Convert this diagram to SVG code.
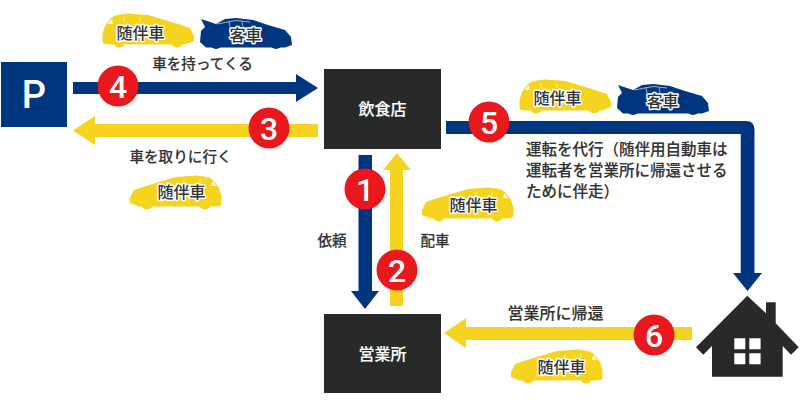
<svg xmlns="http://www.w3.org/2000/svg" width="800" height="400" viewBox="0 0 800 400">
<style>
text{font-family:"Noto Sans CJK JP","Noto Sans",sans-serif;font-weight:500;fill:#333;font-size:14.6px;stroke:#333;stroke-width:.15px}
.c{text-anchor:middle}
.w{fill:#fff}
.t{font-size:16px;fill:#fff;stroke:#fff}
.m{font-size:15.500px}
.n{fill:#fff;stroke:none;font-family:Roboto,"Liberation Sans",sans-serif;font-weight:500;font-size:32px;text-anchor:middle}
.lab{font-size:16px;font-weight:500;text-anchor:middle;stroke:#fff;stroke-width:3px;paint-order:stroke;stroke-linejoin:round}
.b{fill:#003580}.y{fill:#f5d31f}.d{fill:#282a29}.r{fill:#e8181d}
.win{fill:none;stroke:#fff;stroke-width:.8;opacity:.75}
</style>
<defs>
<g id="ycar">
<path class="y" d="M0.500 29L0.500 21L3 13L9 5L14 2L26 0.500L46 2L63 7L76 11L88 15L92 23L92 28L83 31.500H8L2 31Z"/>
<circle class="y" cx="17" cy="28.500" r="6"/><circle class="y" cx="75" cy="28.500" r="6"/>
<path class="w" d="M6 11L11 11L9.500 6Z"/>
<path class="win" d="M22 4V9M38 4.500V9M14 -1L16 3"/>
</g>
<g id="bcar">
<path class="b" d="M1 1L16 6L25 1L36 0L53 2L68 7L85 12L91 19L92 27L85 29.500H6L0 24L1 13L5 9Z"/>
<circle class="b" cx="16" cy="25" r="6"/><circle class="b" cx="76" cy="25" r="6"/>
<path class="win" d="M17 6L36 2.500L50 4M29 3.500L30 9M42 3.500L43 9M20 -2L23 2"/>
</g>
</defs>
<g id="connectors">
<path class="b" d="M73 82H296V74L318 88L296 102V94H73Z"/>
<path class="y" d="M318 124H95V116L73 130.500L95 145V137H318Z"/>
<path class="b" d="M358.500 155H372V291H379L365 309L351 291H358.500Z"/>
<path class="y" d="M390 306H403V170H411L397 153L383 170H390Z"/>
<path class="b" d="M446 121H746Q754.500 121 754.500 130V273H762L747.500 291L733 273H740.700V134H446Z"/>
<path class="y" d="M692 327H466V318L444 333L466 348V340H692Z"/>
</g>
<g id="node-p"><rect class="b" x="1" y="62" width="66" height="65"/><text x="34" y="108" style="fill:#fff;stroke:none;font-family:Roboto,sans-serif;font-size:38px;font-weight:500" class="c">P</text></g>
<g id="node-restaurant"><rect class="d" x="324" y="69" width="117" height="80"/><text class="c t" x="382.500" y="115">飲食店</text></g>
<g id="node-office"><rect class="d" x="324" y="314" width="117" height="79"/><text class="c t" x="382.500" y="360">営業所</text></g>
<g id="node-house">
<path class="d" d="M747.300 295.700L766 313.300V302.300H775.700V323.300L798.700 347.300L791 354.700L782.700 346V376.700H712V346L703.300 354.700L696 347.300Z"/>
<path class="w" d="M734.300 338.300h11v11h-11zM749.300 338.300h11.300v11h-11.300zM734.300 353.300h11v11h-11zM749.300 353.300h11.300v11h-11.300z"/>
</g>
<g id="cars">
<use href="#ycar" x="102" y="13"/><text class="lab" x="140.500" y="38.500">随伴車</text>
<use href="#bcar" x="200" y="18"/><text class="lab" x="245.500" y="41">客車</text>
<use href="#ycar" x="519" y="79"/><text class="lab" x="557.500" y="103.500">随伴車</text>
<use href="#bcar" x="617" y="84"/><text class="lab" x="662.500" y="107">客車</text>
<use href="#ycar" transform="translate(222 175) scale(-1 1)"/><text class="lab" x="181.500" y="198">随伴車</text>
<use href="#ycar" transform="translate(514 187) scale(-1 1)"/><text class="lab" x="473.500" y="211">随伴車</text>
<use href="#ycar" transform="translate(603 349) scale(-1 1)"/><text class="lab" x="561.500" y="373">随伴車</text>
</g>
<g id="labels">
<text class="c" x="202.500" y="69">車を持ってくる</text>
<text class="c" x="180.500" y="162">車を取りに行く</text>
<text class="c" x="332" y="246">依頼</text>
<text class="c" x="435" y="246">配車</text>
<text class="c m" x="555.500" y="319" style="font-size:16px">営業所に帰還</text>
<text class="m" x="526" y="155">運転を代行&#xFF08;随伴用自動車は</text>
<text class="m" x="526" y="176">運転者を営業所に帰還させる</text>
<text class="m" x="526" y="197">ために伴走&#xFF09;</text>
</g>
<g id="badges">
<circle class="r" cx="118" cy="86" r="20.500"/><text class="n" x="118" y="97.500">4</text>
<circle class="r" cx="269" cy="128" r="20.500"/><text class="n" x="269" y="139.500">3</text>
<circle class="r" cx="489" cy="122" r="20.500"/><text class="n" x="489" y="133.500">5</text>
<circle class="r" cx="365" cy="189" r="20.500"/><text class="n" x="365" y="200.500">1</text>
<circle class="r" cx="397" cy="270" r="20.500"/><text class="n" x="397" y="281.500">2</text>
<circle class="r" cx="654" cy="335" r="20.500"/><text class="n" x="654" y="346.500">6</text>
</g>
</svg>
